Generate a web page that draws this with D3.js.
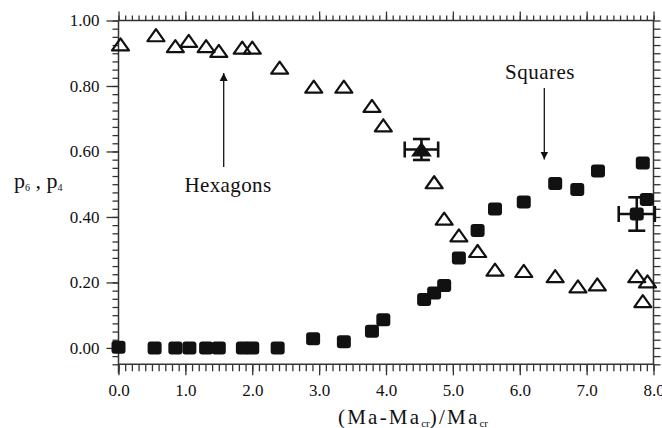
<!DOCTYPE html>
<html>
<head>
<meta charset="utf-8">
<script src="https://cdn.jsdelivr.net/npm/d3@7"></script>
<style>
  body { margin: 0; background: #fff; }
</style>
</head>
<body>
<div id="wrapper"></div>
<script>
// hexagon fraction p6 (open triangles)
const hexX = [0.03, 0.56, 0.85, 1.05, 1.31, 1.50, 1.85, 2.00, 2.41, 2.92, 3.37, 3.79, 3.96,
  4.72, 4.87, 5.09, 5.37, 5.63, 6.06, 6.53, 6.87, 7.16, 7.75, 7.91, 7.84]
const hexY = [0.927, 0.955, 0.922, 0.938, 0.922, 0.907, 0.917, 0.917, 0.856, 0.798, 0.798, 0.739, 0.680,
  0.506, 0.395, 0.344, 0.296, 0.239, 0.235, 0.219, 0.188, 0.194, 0.219, 0.203, 0.143]
// square fraction p4 (filled squares)
const sqX = [0.00, 0.54, 0.85, 1.06, 1.31, 1.50, 1.86, 2.00, 2.38, 2.91, 3.37, 3.79, 3.96,
  4.57, 4.72, 4.87, 5.09, 5.37, 5.63, 6.06, 6.53, 6.86, 7.17, 7.84, 7.90]
const sqY = [0.002, 0.000, 0.000, 0.000, 0.000, 0.000, 0.000, 0.000, 0.000, 0.028, 0.019, 0.051, 0.086,
  0.148, 0.168, 0.191, 0.275, 0.359, 0.424, 0.446, 0.502, 0.484, 0.540, 0.565, 0.453]
// points with error bars [x, y, xerr, yerr]
const hexErr = [4.53, 0.606, 0.25, 0.032]
const sqErr = [7.75, 0.409, 0.27, 0.051]

const xTicks = [0, 1, 2, 3, 4, 5, 6, 7, 8]
const xTickLabels = ["0.0", "1.0", "2.0", "3.0", "4.0", "5.0", "6.0", "7.0", "8.0"]
const yTicks = [0, 0.2, 0.4, 0.6, 0.8, 1.0]
const yTickLabels = ["0.00", "0.20", "0.40", "0.60", "0.80", "1.00"]

const serif = "'Liberation Serif', Tinos, 'Times New Roman', Times, 'Nimbus Roman', FreeSerif, 'Noto Serif', 'DejaVu Serif', serif"

let dimensions = {
  width: 662,
  height: 428,
  margin: { top: 20.5, right: 8.5, bottom: 63.7, left: 118.5 }
}
dimensions.boundedWidth = dimensions.width - dimensions.margin.left - dimensions.margin.right
dimensions.boundedHeight = dimensions.height - dimensions.margin.top - dimensions.margin.bottom

const svg = d3.select('#wrapper')
  .append('svg')
  .attr('width', dimensions.width)
  .attr('height', dimensions.height)
  .attr('font-family', serif)

const bounds = svg.append('g')
  .attr('transform', `translate(${dimensions.margin.left},${dimensions.margin.top})`)

const xScale = d3.scaleLinear().domain([0, 8]).range([0, dimensions.boundedWidth])
const yScale = d3.scaleLinear().domain([-0.05, 1.0]).range([dimensions.boundedHeight, 0])

const axisColor = '#333'
const xMinor = d3.range(0, 8.001, 0.1).map(d => +d.toFixed(2))
const yMinor = d3.range(-0.05, 1.0001, 0.025).map(d => +d.toFixed(3))

function styleAxis(g) {
  g.attr('font-family', serif)
  g.select('.domain').remove()
  g.selectAll('line').attr('stroke', axisColor).attr('stroke-width', 1.3)
  g.selectAll('text').attr('font-size', 17).attr('fill', '#111')
}

// bottom
bounds.append('g').attr('transform', `translate(0,${dimensions.boundedHeight})`)
  .call(d3.axisBottom(xScale).tickValues(xMinor).tickSize(7).tickFormat(''))
  .call(styleAxis)
bounds.append('g').attr('transform', `translate(0,${dimensions.boundedHeight})`)
  .call(d3.axisBottom(xScale).tickValues(xTicks).tickSize(11).tickPadding(9)
    .tickFormat((d, i) => xTickLabels[i]))
  .call(styleAxis)
// top
bounds.append('g')
  .call(d3.axisTop(xScale).tickValues(xMinor).tickSize(5).tickFormat(''))
  .call(styleAxis)
bounds.append('g')
  .call(d3.axisTop(xScale).tickValues(xTicks).tickSize(9).tickFormat(''))
  .call(styleAxis)
// left
bounds.append('g')
  .call(d3.axisLeft(yScale).tickValues(yMinor).tickSize(6).tickFormat(''))
  .call(styleAxis)
bounds.append('g')
  .call(d3.axisLeft(yScale).tickValues(yTicks).tickSize(12).tickPadding(7)
    .tickFormat((d, i) => yTickLabels[i]))
  .call(styleAxis)
// right
bounds.append('g').attr('transform', `translate(${dimensions.boundedWidth},0)`)
  .call(d3.axisRight(yScale).tickValues(yMinor).tickSize(7).tickFormat(''))
  .call(styleAxis)

// frame lines
const frame = bounds.append('g').attr('stroke', axisColor).attr('stroke-width', 1.5)
frame.append('line').attr('x1', 0).attr('x2', dimensions.boundedWidth)
  .attr('y1', 0).attr('y2', 0)
frame.append('line').attr('x1', 0).attr('x2', dimensions.boundedWidth)
  .attr('y1', dimensions.boundedHeight).attr('y2', dimensions.boundedHeight)
frame.append('line').attr('x1', 0).attr('x2', 0)
  .attr('y1', 0).attr('y2', yScale(-0.078))
frame.append('line').attr('x1', dimensions.boundedWidth).attr('x2', dimensions.boundedWidth)
  .attr('y1', 0).attr('y2', dimensions.boundedHeight)

// error bars
function drawErr(e) {
  const [ex, ey, dx, dy] = e
  const g = bounds.append('g').attr('stroke', '#111').attr('stroke-width', 2.6)
  const cx = xScale(ex), cy = yScale(ey)
  const x0 = xScale(ex - dx), x1 = xScale(ex + dx)
  const y0 = yScale(ey - dy), y1 = yScale(ey + dy)
  g.append('line').attr('x1', x0).attr('x2', x1).attr('y1', cy).attr('y2', cy)
  g.append('line').attr('x1', cx).attr('x2', cx).attr('y1', y0).attr('y2', y1)
  ;[x0, x1].forEach(x => g.append('line').attr('x1', x).attr('x2', x).attr('y1', cy - 8).attr('y2', cy + 8))
  ;[y0, y1].forEach(y => g.append('line').attr('x1', cx - 8.5).attr('x2', cx + 8.5).attr('y1', y).attr('y2', y))
}
drawErr(hexErr)
drawErr(sqErr)

// squares
const sqData = sqX.map((d, i) => ({ x: d, y: sqY[i] })).concat([{ x: sqErr[0], y: sqErr[1] }])
bounds.selectAll('rect.sq')
  .data(sqData)
  .enter()
  .append('rect')
  .attr('class', 'sq')
  .attr('x', d => xScale(d.x) - 7)
  .attr('y', d => yScale(d.y) - 6.5)
  .attr('width', 14)
  .attr('height', 13)
  .attr('rx', 3)
  .attr('fill', '#111')

// triangles
const triPath = 'M0,-7 L8.5,5 L-8.5,5 Z'
const hexData = hexX.map((d, i) => ({ x: d, y: hexY[i] }))
bounds.selectAll('path.tri')
  .data(hexData)
  .enter()
  .append('path')
  .attr('class', 'tri')
  .attr('d', triPath)
  .attr('transform', d => `translate(${xScale(d.x)},${yScale(d.y) + 1})`)
  .attr('fill', 'none')
  .attr('stroke', '#111')
  .attr('stroke-width', 2.2)
  .attr('stroke-linejoin', 'round')
bounds.append('path')
  .attr('d', triPath)
  .attr('transform', `translate(${xScale(hexErr[0])},${yScale(hexErr[1]) + 1})`)
  .attr('fill', '#111')
  .attr('stroke', '#111')
  .attr('stroke-width', 2)

// annotations
svg.append('defs').append('marker')
  .attr('id', 'head')
  .attr('viewBox', '0 0 10 10')
  .attr('refX', 10).attr('refY', 5)
  .attr('markerWidth', 8).attr('markerHeight', 11)
  .attr('markerUnits', 'userSpaceOnUse')
  .attr('orient', 'auto')
  .append('path').attr('d', 'M0,0 L10,5 L0,10 Z').attr('fill', '#111')

svg.append('line')
  .attr('x1', 223.7).attr('y1', 167).attr('x2', 223.7).attr('y2', 73)
  .attr('stroke', '#111').attr('stroke-width', 1.3).attr('marker-end', 'url(#head)')
svg.append('text').attr('x', 228).attr('y', 191.5).attr('text-anchor', 'middle')
  .attr('font-size', 21).attr('letter-spacing', 0.4).text('Hexagons')

svg.append('line')
  .attr('x1', 544.3).attr('y1', 88).attr('x2', 544.3).attr('y2', 159.5)
  .attr('stroke', '#111').attr('stroke-width', 1.3).attr('marker-end', 'url(#head)')
svg.append('text').attr('x', 540).attr('y', 78.5).attr('text-anchor', 'middle')
  .attr('font-size', 21).attr('letter-spacing', 0.5).text('Squares')

// y label
const yl = svg.append('text').attr('x', 14).attr('y', 188).attr('font-size', 22)
yl.append('tspan').text('p')
yl.append('tspan').attr('dy', 3).attr('font-size', 10).text('6')
yl.append('tspan').attr('dy', -3).text(' , p')
yl.append('tspan').attr('dy', 3).attr('font-size', 10).text('4')

// x label
const xl = svg.append('text').attr('x', 413).attr('y', 423.5).attr('text-anchor', 'middle')
  .attr('font-size', 21).attr('letter-spacing', 2.2)
xl.append('tspan').text('(Ma-Ma')
xl.append('tspan').attr('dy', 3).attr('font-size', 11).attr('letter-spacing', 0).text('cr')
xl.append('tspan').attr('dy', -3).text(')/Ma')
xl.append('tspan').attr('dy', 3).attr('font-size', 11).attr('letter-spacing', 0).text('cr')

svg.selectAll('text').attr('font-family', serif).attr('fill', '#111')
</script>
</body>
</html>
